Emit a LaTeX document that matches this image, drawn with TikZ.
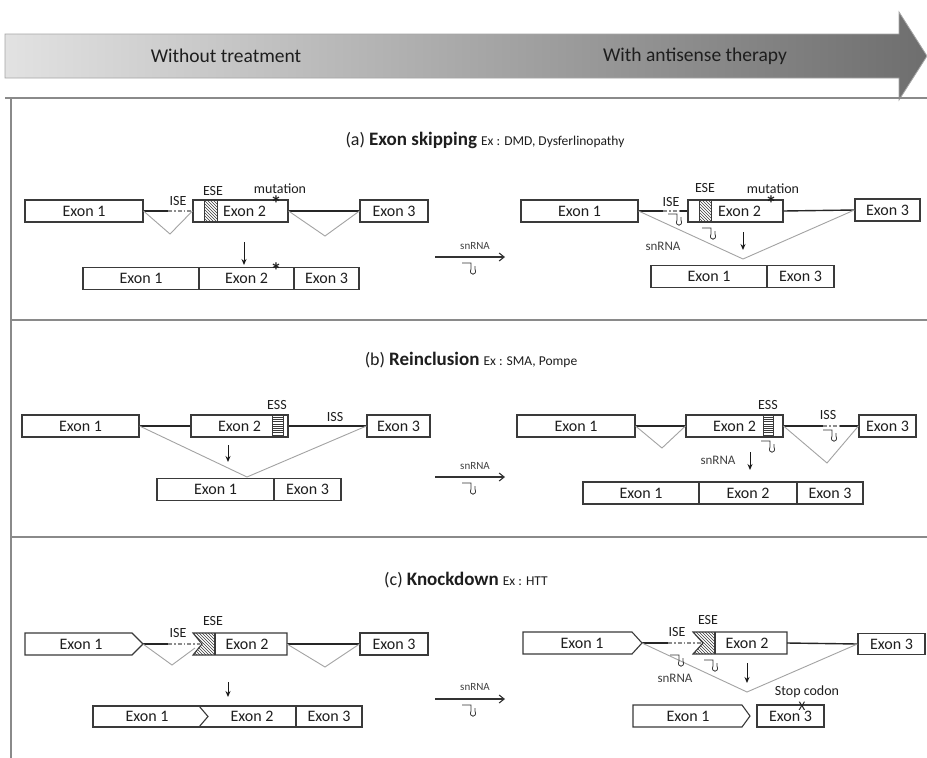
\documentclass[tikz,border=0pt]{standalone}
\usepackage{fontspec}
\setmainfont{Carlito}
\usetikzlibrary{arrows.meta}
\definecolor{boxc}{HTML}{3A3A3A}
\definecolor{vlc}{HTML}{A3A3A3}
\definecolor{framec}{HTML}{8A8A8A}
\definecolor{txtc}{HTML}{1E1E1E}
\definecolor{arrL}{HTML}{E2E2E2}
\definecolor{arrR}{HTML}{6E6E6E}
\newcommand\myHatchD[4]{%
  \begin{scope}\clip (#1,#2) rectangle (#3,#4);
  \foreach \k in {-30,-27,...,30} \draw[line width=0.5pt,boxc] ({#1+\k},#2) -- ({#1+\k+22},#4);
  \end{scope}\draw[boxc,line width=0.9pt] (#1,#2) rectangle (#3,#4);}
\newcommand\myHatchH[4]{%
  \begin{scope}\clip (#1,#2) rectangle (#3,#4);
  \foreach \k in {0,2.2,...,24} \draw[line width=0.6pt,boxc] (#1,{#2+\k}) -- (#3,{#2+\k});
  \end{scope}\draw[boxc,line width=0.9pt] (#1,#2) rectangle (#3,#4);}
\tikzset{
  exon/.style={draw=boxc, line width=1.1pt, rectangle, inner sep=0pt, minimum height=22pt,
    text=txtc, font=\fontsize{16}{18}\selectfont},
  exontext/.style={inner sep=0pt, text=txtc, font=\fontsize{16}{18}\selectfont},
  shapeline/.style={draw=boxc, line width=1.1pt, line join=miter},
  lbl/.style={inner sep=0pt, text=txtc, font=\fontsize{14}{16}\selectfont},
  smlbl/.style={inner sep=0pt, text=txtc!85, font=\fontsize{13}{15}\selectfont},
  midlbl/.style={inner sep=0pt, text=txtc!85, font=\fontsize{11}{13}\selectfont},
  star/.style={inner sep=0pt, anchor=north, text=txtc, font=\bfseries\fontsize{22}{22}\selectfont},
  titlestyle/.style={inner sep=0pt, text=txtc, font=\fontsize{18}{20}\selectfont},
  toptext/.style={inner sep=0pt, text=txtc, font=\fontsize{19.5}{22}\selectfont},
  intron/.style={draw=black!85, line width=1.4pt},
  dashline/.style={draw=black!45, line width=1.3pt, dash pattern=on 4pt off 2pt on 1.5pt off 2pt},
  vl/.style={draw=vlc, line width=0.9pt},
  midarrow/.style={draw=black!80, line width=1.1pt, -{Straight Barb[length=5pt,width=8pt]}},
  downarrow/.style={draw=black!90, line width=1pt, -{Stealth[length=6pt,width=5pt]}},
  hairpin/.pic={\draw[line width=0.8pt, black!80] (0,0) -- (9,0) -- (9,6) .. controls (6,13) and (16,13) .. (13,6) -- (13,3);},
  framel/.style={draw=framec, line width=1.2pt}
}
\begin{document}
\begin{tikzpicture}[x=1pt,y=-1pt]
\useasboundingbox (0,0) rectangle (927,758);
\fill[white] (0,0) rectangle (927,758);
% ---------- top arrow ----------
\shadedraw[left color=arrL, right color=arrR, draw=black!35, line width=0.8pt]
  (5,34) -- (899,34) -- (899,12) -- (927,56) -- (899,100) -- (899,78) -- (5,78) -- cycle;
\node[toptext] (wt) at (226,56) {Without treatment};
\node[toptext] (wa) at (695,56) {With antisense therapy};
% ---------- frame ----------
\draw[framel] (5,98) -- (927,98);
\draw[framel] (11,98) -- (11,758);
\draw[framel] (11,320) -- (927,320);
\draw[framel] (11,537) -- (927,537);

% ================= panel (a) =================
\node[titlestyle] (ta) at (485,140) {(a) {\bfseries\fontsize{19}{21}\selectfont Exon skipping} {\fontsize{13.5}{15}\selectfont Ex : DMD, Dysferlinopathy}};
% left
\node[exon, minimum width=118pt] (a1) at (84,211) {Exon 1};
\node[exon, minimum width=95pt] (a2) at (240.5,211) {\hspace{8pt}Exon 2};
\node[exon, minimum width=68pt] (a3) at (394,211) {Exon 3};
\myHatchD{204}{200}{217}{222}
\coordinate (a1d) at (168,211);
\draw[intron] (a1.east) -- (a1d);
\draw[dashline] (a1d) -- (a2.west);
\draw[intron] (a2.east) -- (a3.west);
\coordinate (av1) at (170,234);
\coordinate (av2) at (325,236);
\draw[vl] (a1.east) -- (av1) -- (a2.west);
\draw[vl] (a2.east) -- (av2) -- (a3.west);
\node[lbl] (aise) at (178,201.5) {ISE};
\node[lbl] (aese) at (213,191) {ESE};
\node[lbl] (amut) at (280,189) {mutation};
\node[star] (ast1) at (276,196) {*};
\coordinate (ada1) at (244,242);
\coordinate (ada2) at (244,265);
\draw[downarrow] (ada1) -- (ada2);
\node[exon, minimum width=116pt] (am1) at (141,278.5) {Exon 1};
\node[exon, minimum width=95pt] (am2) at (246.5,278.5) {Exon 2};
\node[exon, minimum width=65pt] (am3) at (326.5,278.5) {Exon 3};
\node[star] (ast2) at (276,263) {*};
% middle
\coordinate (ma1) at (435,257);
\coordinate (ma2) at (505,257);
\draw[midarrow] (ma1) -- (ma2);
\node[midlbl] (masn) at (475,246) {snRNA};
\pic at (462,263) {hairpin};
% right
\node[exon, minimum width=117pt] (b1) at (579.5,211) {Exon 1};
\node[exon, minimum width=95pt] (b2) at (735.5,211) {\hspace{8pt}Exon 2};
\node[exon, minimum width=65pt] (b3) at (887.5,210) {Exon 3};
\myHatchD{699}{200}{711}{222}
\coordinate (b1s) at (663,211);
\coordinate (b1d) at (680,211);
\draw[intron] (b1.east) -- (b1s);
\draw[dashline] (b1s) -- (b1d);
\draw[intron] (b1d) -- (b2.west);
\draw[intron] (b2.east) -- (b3.west);
\coordinate (bv) at (743,259);
\draw[vl] (b1.east) -- (bv) -- (b3.west);
\node[lbl] (bise) at (671,202) {ISE};
\node[lbl] (bese) at (705,188) {ESE};
\node[lbl] (bmut) at (773,189) {mutation};
\node[star] (bst) at (771,196) {*};
\node[smlbl] (bsn) at (663,246) {snRNA};
\pic at (668,214) {hairpin};
\pic at (702,228) {hairpin};
\coordinate (bda1) at (743,232);
\coordinate (bda2) at (743,250);
\draw[downarrow] (bda1) -- (bda2);
\node[exon, minimum width=116pt] (bm1) at (709,276.5) {Exon 1};
\node[exon, minimum width=67pt] (bm2) at (800.5,276.5) {Exon 3};

% ================= panel (b) =================
\node[titlestyle] (tb) at (471,360) {(b) {\bfseries\fontsize{19}{21}\selectfont Reinclusion} {\fontsize{13.5}{15}\selectfont Ex : SMA, Pompe}};
% left
\node[exon, minimum width=117pt] (c1) at (80.5,426) {Exon 1};
\node[exon, minimum width=97pt] (c2) at (239.5,426) {Exon 2};
\node[exon, minimum width=63pt] (c3) at (398.5,426) {Exon 3};
\myHatchH{272}{415}{283}{437}
\draw[intron] (c1.east) -- (c2.west);
\draw[intron] (c2.east) -- (c3.west);
\coordinate (cv) at (247,477);
\draw[vl] (c1.east) -- (cv) -- (c3.west);
\node[lbl] (cess) at (277,405) {ESS};
\node[lbl] (ciss) at (335,417) {ISS};
\coordinate (cda1) at (228,445);
\coordinate (cda2) at (228,462);
\draw[downarrow] (cda1) -- (cda2);
\node[exon, minimum width=117pt] (d1) at (215.5,489.5) {Exon 1};
\node[exon, minimum width=67pt] (d2) at (307.5,489.5) {Exon 3};
% middle
\coordinate (mb1) at (435,477);
\coordinate (mb2) at (505,477);
\draw[midarrow] (mb1) -- (mb2);
\node[midlbl] (mbsn) at (475,466) {snRNA};
\pic at (462,483) {hairpin};
% right
\node[exon, minimum width=118pt] (e1) at (576,426) {Exon 1};
\node[exon, minimum width=97pt] (e2) at (734.5,426) {Exon 2};
\node[exon, minimum width=57pt] (e3) at (887.5,426) {Exon 3};
\myHatchH{763}{415}{773}{437}
\draw[intron] (e1.east) -- (e2.west);
\coordinate (e2s) at (823,426);
\coordinate (e2d) at (840,426);
\draw[intron] (e2.east) -- (e2s);
\draw[dashline] (e2s) -- (e2d);
\draw[intron] (e2d) -- (e3.west);
\coordinate (ev1) at (662,448);
\coordinate (ev2) at (827,463);
\draw[vl] (e1.east) -- (ev1) -- (e2.west);
\draw[vl] (e2.east) -- (ev2) -- (e3.west);
\node[lbl] (eess) at (768,405) {ESS};
\node[lbl] (eiss) at (828,415) {ISS};
\pic at (761,441) {hairpin};
\pic at (823,430) {hairpin};
\node[smlbl] (esn) at (718,460) {snRNA};
\coordinate (eda1) at (750,452);
\coordinate (eda2) at (750,470);
\draw[downarrow] (eda1) -- (eda2);
\node[exon, minimum width=116pt] (f1) at (641,493) {Exon 1};
\node[exon, minimum width=98pt] (f2) at (748,493) {Exon 2};
\node[exon, minimum width=66pt] (f3) at (830,493) {Exon 3};

% ================= panel (c) =================
\node[titlestyle] (tc) at (466,580) {(c) {\bfseries\fontsize{19}{21}\selectfont Knockdown} {\fontsize{13.5}{15}\selectfont Ex : HTT}};
% left
\draw[shapeline] (25,633) -- (132,633) -- (143,644) -- (132,655) -- (25,655) -- cycle;
\node[exontext] (g1) at (81,644) {Exon 1};
\begin{scope}
\clip (193,633) -- (215,633) -- (215,655) -- (193,655) -- (202,644) -- cycle;
\foreach \k in {-30,-27,...,30} \draw[line width=0.5pt,boxc] ({193+\k},633) -- ({193+\k+22},655);
\end{scope}
\draw[shapeline] (215,633) -- (215,655);
\draw[shapeline] (193,633) -- (287,633) -- (287,655) -- (193,655) -- (202,644) -- cycle;
\node[exontext] (g2) at (247,644) {Exon 2};
\node[exon, minimum width=68pt] (g3) at (394,644) {Exon 3};
\coordinate (g1t) at (143,644);
\coordinate (g1d) at (168,644);
\coordinate (g2n) at (200,644);
\coordinate (g2e) at (287,644);
\draw[intron] (g1t) -- (g1d);
\draw[dashline] (g1d) -- (g2n);
\draw[intron] (g2e) -- (g3.west);
\coordinate (gv1) at (172,665);
\coordinate (gv1e) at (195,648);
\coordinate (gv2) at (325,667);
\draw[vl] (g1t) -- (gv1) -- (gv1e);
\draw[vl] (g2e) -- (gv2) -- (g3.west);
\node[lbl] (gise) at (178,633) {ISE};
\node[lbl] (gese) at (213,621) {ESE};
\coordinate (gda1) at (228,682);
\coordinate (gda2) at (228,697);
\draw[downarrow] (gda1) -- (gda2);
\draw[shapeline] (93,706) rectangle (362,727);
\draw[shapeline] (199,706) -- (208,716.5) -- (199,727);
\draw[shapeline] (296,706) -- (296,727);
\node[exontext] (gm1) at (147,716.5) {Exon 1};
\node[exontext] (gm2) at (252,716.5) {Exon 2};
\node[exontext] (gm3) at (329,716.5) {Exon 3};
% middle
\coordinate (mc1) at (435,699);
\coordinate (mc2) at (505,699);
\draw[midarrow] (mc1) -- (mc2);
\node[midlbl] (mcsn) at (475,687) {snRNA};
\pic at (462,705) {hairpin};
% right
\draw[shapeline] (523,632) -- (632,632) -- (642,643) -- (632,654) -- (523,654) -- cycle;
\node[exontext] (h1) at (582,643) {Exon 1};
\begin{scope}
\clip (693,632) -- (715,632) -- (715,654) -- (693,654) -- (703,643) -- cycle;
\foreach \k in {-30,-27,...,30} \draw[line width=0.5pt,boxc] ({693+\k},632) -- ({693+\k+22},654);
\end{scope}
\draw[shapeline] (715,632) -- (715,654);
\draw[shapeline] (693,632) -- (787,632) -- (787,654) -- (693,654) -- (703,643) -- cycle;
\node[exontext] (h2) at (747,643) {Exon 2};
\node[exon, minimum width=67pt, minimum height=21pt] (h3) at (891.5,644) {Exon 3};
\coordinate (h1t) at (642,643);
\coordinate (h1s) at (668,643);
\coordinate (h2n) at (701,643);
\coordinate (h2e) at (787,643);
\draw[intron] (h1t) -- (h1s);
\draw[dashline] (h1s) -- (h2n);
\draw[intron] (h2e) -- (h3.west);
\coordinate (hv) at (747,692);
\draw[vl] (h1t) -- (hv) -- (h3.west);
\node[lbl] (hise) at (677,632) {ISE};
\node[lbl] (hese) at (708,620) {ESE};
\pic at (670,655) {hairpin};
\pic at (704,660) {hairpin};
\node[smlbl] (hsn) at (675,678) {snRNA};
\coordinate (hda1) at (747,663);
\coordinate (hda2) at (747,683);
\draw[downarrow] (hda1) -- (hda2);
\node[lbl] (hstop) at (807,692) {Stop codon};
\draw[shapeline] (633,705) -- (742,705) -- (750,716) -- (742,727) -- (633,727) -- cycle;
\node[exontext] (hm1) at (688,716) {Exon 1};
\node[exon, minimum width=67pt] (hm3) at (790.5,716) {Exon 3};
\node[inner sep=0pt, text=txtc, font=\fontsize{13}{13}\selectfont] (hx) at (802,706) {X};
\end{tikzpicture}
\end{document}
